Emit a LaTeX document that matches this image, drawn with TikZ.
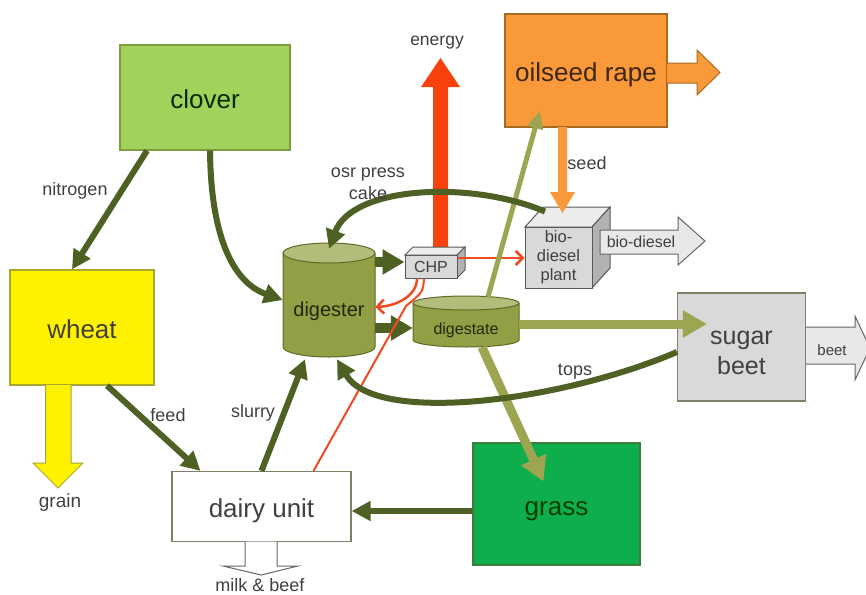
\documentclass[tikz,border=0pt]{standalone}
\usepackage{fontspec}
\setmainfont{Liberation Sans}
\usetikzlibrary{arrows.meta}
\definecolor{txt}{HTML}{404040}
\definecolor{darkol}{HTML}{4F6024}
\definecolor{lightol}{HTML}{9DA551}
\definecolor{cloverc}{HTML}{A2D15C}
\definecolor{cloverb}{HTML}{7E9E3E}
\definecolor{wheatb}{HTML}{A8A830}
\definecolor{oilc}{HTML}{F9993A}
\definecolor{oilb}{HTML}{A86A20}
\definecolor{grassc}{HTML}{0DAE4B}
\definecolor{grassb}{HTML}{3E7D3E}
\definecolor{greyc}{HTML}{D9D9D9}
\definecolor{greyb}{HTML}{7F7F6A}
\definecolor{redc}{HTML}{F9410E}
\definecolor{redthin}{HTML}{F04A23}
\definecolor{cylbody}{HTML}{929F45}
\definecolor{cyltop}{HTML}{B3BC7A}
\definecolor{cylb}{HTML}{5E6B25}
\tikzset{
  box/.style={draw, line width=1.2pt, inner sep=0pt, font=\fontsize{26}{30}\selectfont, text height=22pt, text depth=0pt},
  lab/.style={text=txt, font=\fontsize{18}{21}\selectfont, inner sep=0pt, align=center},
  ghost/.style={inner sep=0pt, draw=none},
  darr/.style={draw=darkol, line width=6pt, -{Triangle[length=19pt,width=19pt]}},
  bigarr/.style={draw=darkol, line width=10pt, -{Triangle[length=22pt,width=24pt]}},
  larr/.style={draw=lightol, line width=9pt, -{Triangle[length=24pt,width=26pt]}},
  lthin/.style={draw=lightol, line width=5pt, -{Triangle[length=18pt,width=15pt]}},
  redarr/.style={draw=redthin, line width=2.5pt, -{Straight Barb[length=7pt,width=14pt]}},
  redline/.style={draw=redthin, line width=2pt},
  cubeedge/.style={draw=gray!70!black, line width=1pt},
}
\begin{document}
\begin{tikzpicture}[x=1pt,y=-1pt]
\useasboundingbox (0,0) rectangle (866,594);
\clip (0,0) rectangle (866,594);
\fill[white] (0,0) rectangle (866,594);

% boxes
\node[box, fill=cloverc, draw=cloverb, text=black!70!green!60!black, minimum width=170pt, minimum height=105pt] (clover) at (205,97.5) {clover};
\node[box, fill=yellow, draw=wheatb, text=txt, minimum width=144pt, minimum height=115pt] (wheat) at (82,327.5) {wheat};
\node[box, fill=white, draw=greyb, text=txt, minimum width=179pt, minimum height=70pt] (dairy) at (261.5,506.5) {dairy unit};
\node[box, fill=grassc, draw=grassb, text=black!65!green!70!black, minimum width=167pt, minimum height=122pt] (grass) at (556.5,504) {grass};
\node[box, fill=greyc, draw=greyb, minimum width=128pt, minimum height=108pt] (sugar) at (741.5,347) {};
\node[box, fill=oilc, draw=oilb, text=black!75!oilc, minimum width=162pt, minimum height=113pt] (oilseed) at (586,70.5) {oilseed rape};

% outflow arrows
\filldraw[fill=yellow, draw=wheatb, line width=1pt] (45.5,385) -- (45.5,463) -- (33,463) -- (58,488) -- (83,463) -- (71,463) -- (71,385);
\filldraw[fill=white, draw=gray!80!black, line width=1pt] (245,541.5) -- (245,566) -- (223,566) -- (261,575) -- (298,566) -- (277,566) -- (277,541.5);
\filldraw[fill=oilc, draw=oilb, line width=1pt] (667,63) -- (697,63) -- (697,50) -- (720,72.5) -- (697,95) -- (697,83) -- (667,83);
\filldraw[fill=greyc!60!white, draw=gray!80!black, line width=1pt] (806,327) -- (855,327) -- (855,316) -- (870,348) -- (855,380) -- (855,364) -- (806,364);

% energy arrow
\fill[redc] (433,250) -- (433,87) -- (421,87) -- (440.5,58) -- (460,87) -- (448,87) -- (448,250) -- cycle;

% CHP cube
\filldraw[fill=greyc!50!white, cubeedge] (405,255) -- (413,247) -- (465,247) -- (457,255) -- cycle;
\filldraw[fill=gray!60, cubeedge] (457,255) -- (465,247) -- (465,270) -- (457,278) -- cycle;
\node[draw=gray!70!black, line width=1pt, fill=greyc, minimum width=52pt, minimum height=23pt, inner sep=0pt, text=txt, font=\fontsize{16}{18}\selectfont] (chp) at (431,266.5) {CHP};

% bio-diesel plant cube
\filldraw[fill=greyc!50!white, cubeedge] (525,227) -- (543,207) -- (610,207) -- (592,227) -- cycle;
\filldraw[fill=gray!60, cubeedge] (592,227) -- (610,207) -- (610,268) -- (592,288) -- cycle;
\node[draw=gray!70!black, line width=1pt, fill=greyc, minimum width=67pt, minimum height=61pt, inner sep=0pt, text=txt, align=center, font=\fontsize{16.5}{19}\selectfont] (bio) at (558.5,257.5) {bio-\\diesel\\plant};
\filldraw[fill=greyc!60!white, draw=gray!80!black, line width=1pt] (600,230) -- (678,230) -- (678,217) -- (705,241) -- (678,265) -- (678,254) -- (600,254) -- cycle;
\node[lab, font=\fontsize{16}{18}\selectfont] (biodiesel) at (641,242) {bio-diesel};

% seed arrow
\fill[oilc] (558,127) -- (558,192) -- (550,192) -- (562.5,213) -- (575,192) -- (567,192) -- (567,127) -- cycle;

% digester cylinder
\fill[cylbody] (283,253) -- (283,347) arc[start angle=180, end angle=0, x radius=46, y radius=10] -- (375,253) -- cycle;
\draw[cylb, line width=1pt] (283,253) -- (283,347) arc[start angle=180, end angle=0, x radius=46, y radius=10] -- (375,253);
\filldraw[fill=cyltop, draw=cylb, line width=1pt] (329,253) ellipse[x radius=46, y radius=10];
\node[ghost, minimum width=92pt, minimum height=114pt] (digester) at (329,300) {};
\node[lab, text=black!75!cylbody, font=\fontsize{20}{22}\selectfont] (digesterlabel) at (329,311) {digester};

% digestate cylinder
\fill[cylbody] (413,303) -- (413,340) arc[start angle=180, end angle=0, x radius=53, y radius=7] -- (519,303) -- cycle;
\draw[cylb, line width=1pt] (413,303) -- (413,340) arc[start angle=180, end angle=0, x radius=53, y radius=7] -- (519,303);
\filldraw[fill=cyltop, draw=cylb, line width=1pt] (466,303) ellipse[x radius=53, y radius=7];
\node[ghost, minimum width=106pt, minimum height=50pt] (digestate) at (466,322) {};
\node[lab, text=black!75!cylbody, font=\fontsize{16}{18}\selectfont] (digestatelabel) at (466,330) {digestate};

% sugar beet label
\node[lab, font=\fontsize{25}{30}\selectfont] (sugarlabel) at (741.5,353) {sugar\\beet};
\node[lab, font=\fontsize{15}{17}\selectfont] (beetlabel) at (832,350) {beet};

% connectors
\draw[darr] ([xshift=-58pt]clover.south) -- ([xshift=-10pt]wheat.north);
\draw[darr] ([xshift=5pt]clover.south) .. controls (211,250) and (240,285) .. (digester.west);
\draw[darr] ([xshift=25pt]wheat.south) -- ([xshift=-61pt]dairy.north);
\draw[darr] (dairy.north) -- ([xshift=-24pt,yshift=-2pt]digester.south);
\draw[darr] (grass.west |- 0,511) -- (dairy.east |- 0,511);
\draw[bigarr] (digester.east |- 0,262) -- (chp.west |- 0,262);
\draw[bigarr] (digester.east |- 0,328) -- (digestate.west |- 0,328);
\draw[redarr] (chp.east |- 0,258) -- (bio.west |- 0,258);
\draw[redarr] ([xshift=-14pt]chp.south) .. controls (417,295) and (398,306) .. (digester.east |- 0,307);
\draw[redline] ([xshift=-7pt]chp.south) .. controls (423,292) .. (406,306) -- ([xshift=52pt]dairy.north);
\draw[larr] (digestate.east |- 0,324) -- ([xshift=30pt]sugar.west |- 0,324);
\draw[larr] ([xshift=16pt]digestate.south) -- ([xshift=-13pt,yshift=-39pt]grass.north);
\draw[lthin] ([xshift=22pt]digestate.north) -- ([xshift=-46pt,yshift=17pt]oilseed.south);
\draw[darr] (sugar.west |- 0,352) .. controls (560,402) and (375,425) .. ([xshift=8pt,yshift=-2pt]digester.south);
\draw[darr] ([xshift=-13.5pt,yshift=15pt]bio.north) .. controls (470,180) and (352,186) .. ([yshift=-6pt]digester.north);

% labels
\node[lab] (nitrogen) at (75,191) {nitrogen};
\node[lab] (feed) at (168,415) {feed};
\node[lab] (slurry) at (253,413) {slurry};
\node[lab, font=\fontsize{19}{21}\selectfont] (grain) at (60,503) {grain};
\node[lab] (milk) at (260,585) {milk \& beef};
\node[lab, font=\fontsize{17.5}{20}\selectfont] (energy) at (437,43) {energy};
\node[lab] (seed) at (587,163) {seed};
\node[lab, font=\fontsize{18}{22}\selectfont] (osr) at (368,184) {osr press\\cake};
\node[lab] (tops) at (575,372) {tops};
\end{tikzpicture}
\end{document}
